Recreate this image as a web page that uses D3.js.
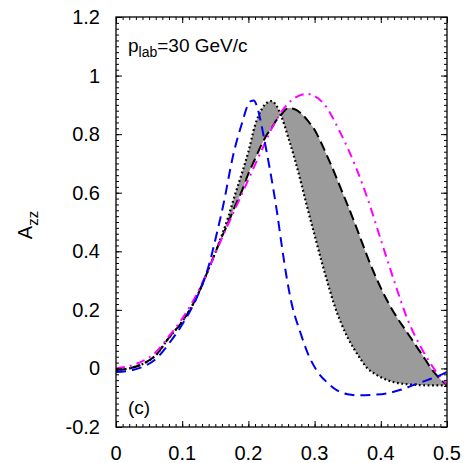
<!DOCTYPE html>
<html>
<head>
<meta charset="utf-8">
<script src="https://cdn.jsdelivr.net/npm/d3@7"></script>
<style>
  body { margin: 0; background: #fff; }
  svg text { font-family: "Liberation Sans", Arial, sans-serif; fill: #000; }
</style>
</head>
<body>
<div id="chartContainer"></div>
<script>
// band: dotted (lower bound) and dashed (upper bound) share the x grid
const bandX      = [0, 0.02, 0.04, 0.06, 0.08, 0.10, 0.12, 0.14, 0.16, 0.17, 0.18, 0.19, 0.20, 0.21, 0.22, 0.23, 0.235, 0.24, 0.25, 0.26, 0.27, 0.28, 0.29, 0.30, 0.31, 0.32, 0.33, 0.34, 0.35, 0.36, 0.37, 0.38, 0.39, 0.40, 0.41, 0.42, 0.44, 0.46, 0.48, 0.50];
const dottedY    = [-0.005, 0.0, 0.015, 0.045, 0.105, 0.16, 0.235, 0.34, 0.455, 0.52, 0.595, 0.665, 0.74, 0.83, 0.885, 0.91, 0.913, 0.905, 0.86, 0.79, 0.715, 0.63, 0.54, 0.455, 0.37, 0.29, 0.215, 0.155, 0.105, 0.065, 0.03, 0.0, -0.017, -0.03, -0.04, -0.047, -0.054, -0.057, -0.058, -0.058];
const dashedY    = [-0.005, 0.0, 0.015, 0.045, 0.105, 0.16, 0.235, 0.34, 0.45, 0.50, 0.555, 0.605, 0.665, 0.715, 0.765, 0.805, 0.82, 0.84, 0.868, 0.889, 0.885, 0.87, 0.845, 0.815, 0.77, 0.72, 0.668, 0.612, 0.557, 0.50, 0.44, 0.38, 0.325, 0.275, 0.23, 0.19, 0.122, 0.055, -0.012, -0.058];

const blueX      = [0, 0.02, 0.04, 0.06, 0.08, 0.10, 0.12, 0.14, 0.153, 0.162, 0.177, 0.192, 0.198, 0.203, 0.208, 0.213, 0.218, 0.225, 0.233, 0.243, 0.251, 0.258, 0.265, 0.278, 0.29, 0.304, 0.32, 0.334, 0.35, 0.368, 0.39, 0.409, 0.43, 0.448, 0.47, 0.489, 0.50];
const blueY      = [-0.012, -0.008, 0.005, 0.032, 0.085, 0.15, 0.232, 0.35, 0.468, 0.557, 0.728, 0.85, 0.893, 0.912, 0.915, 0.895, 0.85, 0.77, 0.673, 0.537, 0.41, 0.308, 0.225, 0.126, 0.05, -0.01, -0.05, -0.075, -0.088, -0.092, -0.09, -0.085, -0.073, -0.058, -0.04, -0.024, -0.012];

const magentaX   = [0, 0.02, 0.04, 0.06, 0.08, 0.10, 0.12, 0.14, 0.16, 0.18, 0.20, 0.22, 0.24, 0.26, 0.275, 0.289, 0.30, 0.313, 0.34, 0.36, 0.38, 0.40, 0.42, 0.44, 0.46, 0.48, 0.50];
const magentaY   = [0.0, 0.008, 0.025, 0.055, 0.11, 0.17, 0.245, 0.34, 0.445, 0.545, 0.645, 0.745, 0.84, 0.905, 0.93, 0.937, 0.93, 0.906, 0.80, 0.70, 0.58, 0.44, 0.30, 0.17, 0.075, 0.0, -0.055];

const xTicks = [0, 0.1, 0.2, 0.3, 0.4, 0.5];
const xTickLabels = ["0", "0.1", "0.2", "0.3", "0.4", "0.5"];
const yTicks = [-0.2, 0, 0.2, 0.4, 0.6, 0.8, 1, 1.2];
const yTickLabels = ["-0.2", "0", "0.2", "0.4", "0.6", "0.8", "1", "1.2"];

const W = 468, H = 463;
const margin = { top: 17, right: 21, bottom: 36, left: 116 };
const width = W - margin.left - margin.right;
const height = H - margin.top - margin.bottom;

const svg = d3.select("#chartContainer")
    .append("svg")
    .attr("width", W)
    .attr("height", H);

const g = svg.append("g")
    .attr("transform", "translate(" + margin.left + "," + margin.top + ")");

const x = d3.scaleLinear().domain([0, 0.5]).range([0, width]);
const y = d3.scaleLinear().domain([-0.2, 1.2]).range([height, 0]);

g.append("clipPath").attr("id", "clip")
    .append("rect").attr("width", width).attr("height", height);

const plot = g.append("g").attr("clip-path", "url(#clip)");

// shaded band
const band = bandX.map((d, i) => ({ x: d, lo: dottedY[i], hi: dashedY[i] }));
const area = d3.area()
    .x(d => x(d.x))
    .y0(d => y(d.lo))
    .y1(d => y(d.hi))
    .curve(d3.curveMonotoneX);

plot.append("path")
    .datum(band)
    .attr("d", area)
    .attr("fill", "#9b9b9b")
    .attr("stroke", "none");

const line = d3.line()
    .x(d => x(d[0]))
    .y(d => y(d[1]))
    .curve(d3.curveMonotoneX);

function drawLine(xs, ys, color, dash, w) {
    plot.append("path")
        .datum(xs.map((d, i) => [d, ys[i]]))
        .attr("d", line)
        .attr("fill", "none")
        .attr("stroke", color)
        .attr("stroke-width", w)
        .attr("stroke-dasharray", dash);
}

drawLine(bandX, dottedY, "#000", "1.8,2.6", 2.2);
drawLine(bandX, dashedY, "#000", "10,5", 2);
drawLine(magentaX, magentaY, "#ff00ff", "9,5,2,5", 2);
drawLine(blueX, blueY, "#0000ee", "10,6", 2);

// axes with mirrored ticks, major + minor, all inward
const xMinor = d3.range(0, 0.5001, 0.01);
const yMinor = d3.range(-0.2, 1.2001, 0.02);

function tickAxis(axisFn, scale, ticks, len) {
    return axisFn(scale).tickValues(ticks).tickSize(len).tickFormat("");
}

// bottom
g.append("g").attr("transform", "translate(0," + height + ")")
    .call(tickAxis(d3.axisTop, x, xMinor, 3));
g.append("g").attr("transform", "translate(0," + height + ")")
    .call(tickAxis(d3.axisTop, x, xTicks, 6));
// top
g.append("g").call(tickAxis(d3.axisBottom, x, xMinor, 3));
g.append("g").call(tickAxis(d3.axisBottom, x, xTicks, 6));
// left
g.append("g").call(tickAxis(d3.axisRight, y, yMinor, 3));
g.append("g").call(tickAxis(d3.axisRight, y, yTicks, 6));
// right
g.append("g").attr("transform", "translate(" + width + ",0)")
    .call(tickAxis(d3.axisLeft, y, yMinor, 3));
g.append("g").attr("transform", "translate(" + width + ",0)")
    .call(tickAxis(d3.axisLeft, y, yTicks, 6));

g.selectAll(".domain").remove();
g.selectAll(".tick line").attr("stroke", "#000").attr("stroke-width", 1);

g.append("rect")
    .attr("width", width)
    .attr("height", height)
    .attr("fill", "none")
    .attr("stroke", "#000")
    .attr("stroke-width", 1.3);

// tick labels
g.selectAll(".xlab")
    .data(xTicks)
    .enter().append("text")
    .attr("x", d => x(d))
    .attr("y", height + 33)
    .attr("text-anchor", "middle")
    .style("font-size", "20px")
    .text((d, i) => xTickLabels[i]);

g.selectAll(".ylab")
    .data(yTicks)
    .enter().append("text")
    .attr("x", -16)
    .attr("y", d => y(d) + 7)
    .attr("text-anchor", "end")
    .style("font-size", "20px")
    .text((d, i) => yTickLabels[i]);

// y axis title A_zz
const yt = svg.append("text")
    .attr("transform", "translate(32,225) rotate(-90)")
    .attr("text-anchor", "middle")
    .style("font-size", "20px");
yt.append("tspan").text("A");
yt.append("tspan").attr("dy", 6).style("font-size", "15px").text("zz");

// annotations
const ann = g.append("text")
    .attr("x", 12)
    .attr("y", 35)
    .style("font-size", "19px");
ann.append("tspan").text("p");
ann.append("tspan").attr("dy", 5).style("font-size", "14px").text("lab");
ann.append("tspan").attr("dy", -5).text("=30 GeV/c");

g.append("text")
    .attr("x", 12)
    .attr("y", height - 13)
    .style("font-size", "19px")
    .text("(c)");
</script>
</body>
</html>
